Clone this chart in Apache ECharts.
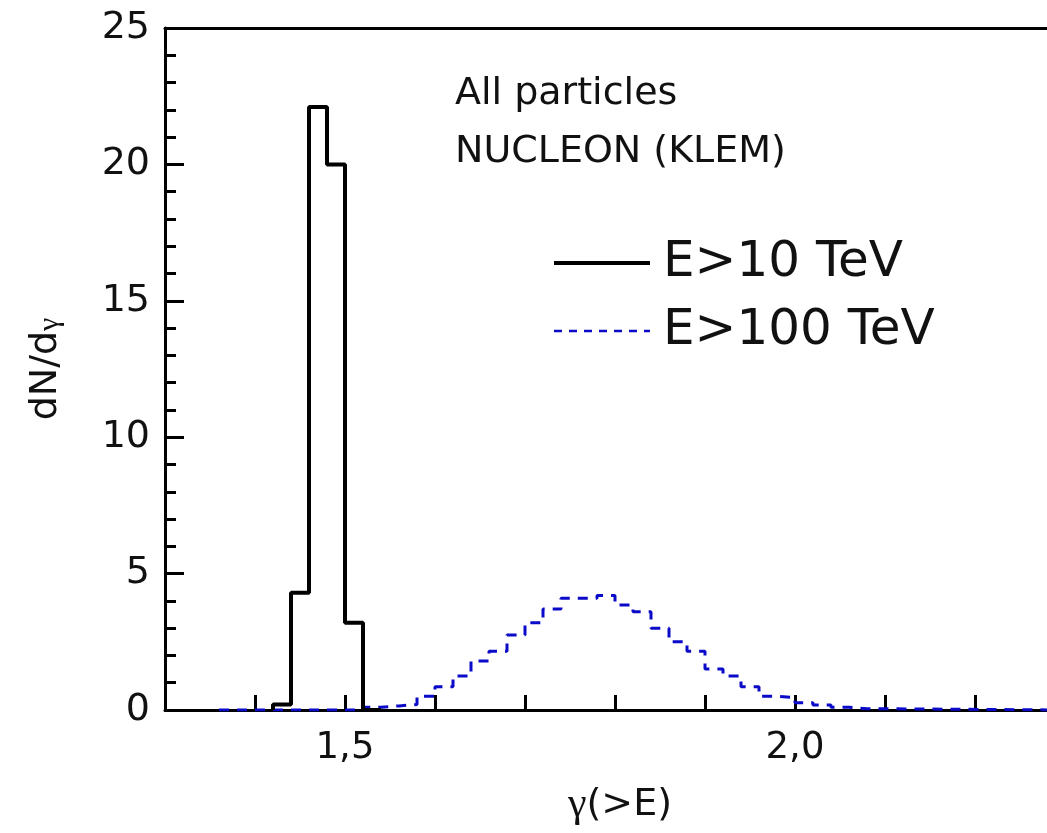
<!DOCTYPE html>
<html>
<head>
<meta charset="UTF-8">
<title>dN/dγ</title>
<script src="https://cdn.jsdelivr.net/npm/echarts@6/dist/echarts.min.js"></script>
<style>
	html, body { margin: 0; padding: 0; background: #fff; }
	#chart { width: 1047px; height: 833px; }
</style>
</head>
<body>
	<div id="chart"></div>
<script type="text/javascript">
	// E>10 TeV histogram: left bin edges and heights (last bin closes to 0)
	var tenEdges = [1.42, 1.44, 1.46, 1.48, 1.50, 1.52, 1.54];
	var tenValues = [0.2, 4.3, 22.1, 20.0, 3.2, 0, 0];

	// E>100 TeV histogram
	var hundredEdges = [1.36, 1.38, 1.40, 1.42, 1.44, 1.46, 1.48, 1.50, 1.52, 1.54,
		1.56, 1.58, 1.60, 1.62, 1.64, 1.66, 1.68, 1.70, 1.72, 1.74,
		1.76, 1.78, 1.80, 1.82, 1.84, 1.86, 1.88, 1.90, 1.92, 1.94,
		1.96, 1.98, 2.00, 2.02, 2.04, 2.06, 2.08, 2.30];
	var hundredValues = [0, 0, 0, 0, 0, 0, 0, 0, 0.1, 0.15,
		0.2, 0.5, 0.85, 1.25, 1.8, 2.15, 2.75, 3.2, 3.7, 4.1,
		4.1, 4.2, 3.85, 3.6, 3.0, 2.5, 2.15, 1.5, 1.25, 0.85,
		0.5, 0.45, 0.27, 0.18, 0.1, 0.05, 0, 0];

	var xTickLabels = { '1.5': '1,5', '2': '2,0' };
	var yTicks = [0, 5, 10, 15, 20, 25];

	function toPairs(edges, values, lead) {
		var out = [];
		if (lead) out.push([edges[0], 0]);
		for (var i = 0; i < edges.length; i++) {
			out.push([edges[i], values[i]]);
		}
		return out;
	}

	var font = 'DejaVu Sans';
	var myChart = echarts.init(document.getElementById('chart'));

	var option = {
		animation: false,
		backgroundColor: '#fff',
		title: {
			text: 'All particles\nNUCLEON (KLEM)',
			left: 450,
			top: 60,
			textStyle: { fontFamily: font, fontSize: 38, lineHeight: 58, fontWeight: 'normal', color: '#111' }
		},
		legend: {
			orient: 'vertical',
			left: 552,
			top: 238,
			padding: 0,
			itemWidth: 96,
			itemHeight: 14,
			itemGap: 18,
			itemStyle: { opacity: 0 },
			data: [
				{ name: 'E>10 TeV', lineStyle: { width: 4, color: '#000' } },
				{ name: 'E>100 TeV', lineStyle: { width: 2.5, color: '#0a0ac8', type: [8, 7] } }
			],
			textStyle: { fontFamily: font, fontSize: 50, lineHeight: 50, color: '#111', padding: [0, 0, 0, 8] }
		},
		grid: { left: 165, right: 0, top: 28, bottom: 123 },
		xAxis: [{
			type: 'value',
			min: 1.3,
			max: 2.28,
			interval: 0.1,
			name: '{g|γ}(>E)',
			nameLocation: 'middle',
			nameGap: 74,
			nameTextStyle: {
				fontFamily: font, fontSize: 38, color: '#111', padding: [0, 0, 0, 28],
				rich: { g: { fontFamily: 'Liberation Serif', fontSize: 42, color: '#111' } }
			},
			axisLine: { show: true, onZero: false, lineStyle: { color: '#000', width: 3 } },
			axisTick: { show: true, inside: true, length: 15, lineStyle: { color: '#000', width: 3 } },
			axisLabel: {
				margin: 20,
				fontFamily: font, fontSize: 37, color: '#111',
				showMinLabel: false, showMaxLabel: false,
				formatter: function (v) {
					var k = String(Math.round(v * 10) / 10);
					return xTickLabels[k] || '';
				}
			},
			splitLine: { show: false }
		}, {
			type: 'value',
			position: 'top',
			min: 1.3,
			max: 2.28,
			axisLine: { show: true, onZero: false, lineStyle: { color: '#000', width: 3 } },
			axisTick: { show: false },
			axisLabel: { show: false },
			splitLine: { show: false }
		}],
		yAxis: {
			type: 'value',
			min: yTicks[0],
			max: yTicks[yTicks.length - 1],
			interval: 5,
			name: 'dN/d{g|γ}',
			nameLocation: 'middle',
			nameGap: 100,
			nameTextStyle: {
				fontFamily: font, fontSize: 38, color: '#111',
				rich: { g: { fontFamily: 'Liberation Serif', fontSize: 30, color: '#111', verticalAlign: 'bottom' } }
			},
			axisLine: { show: true, lineStyle: { color: '#000', width: 3 } },
			axisTick: { show: true, inside: true, length: 19, lineStyle: { color: '#000', width: 3 } },
			minorTick: { show: true, splitNumber: 5, length: 11, lineStyle: { color: '#000', width: 3 } },
			axisLabel: { margin: 15, fontFamily: font, fontSize: 38, color: '#111' },
			splitLine: { show: false }
		},
		series: [{
			name: 'E>100 TeV',
			type: 'line',
			step: 'end',
			symbol: 'none',
			clip: true,
			data: toPairs(hundredEdges, hundredValues, false),
			lineStyle: { color: '#0a0ac8', width: 3, type: [10, 8] },
			itemStyle: { color: '#0a0ac8' }
		}, {
			name: 'E>10 TeV',
			type: 'line',
			step: 'end',
			symbol: 'none',
			clip: true,
			data: toPairs(tenEdges, tenValues, true),
			lineStyle: { color: '#000', width: 4 },
			itemStyle: { color: '#000' }
		}]
	};

	myChart.setOption(option);
</script>
</body>
</html>
